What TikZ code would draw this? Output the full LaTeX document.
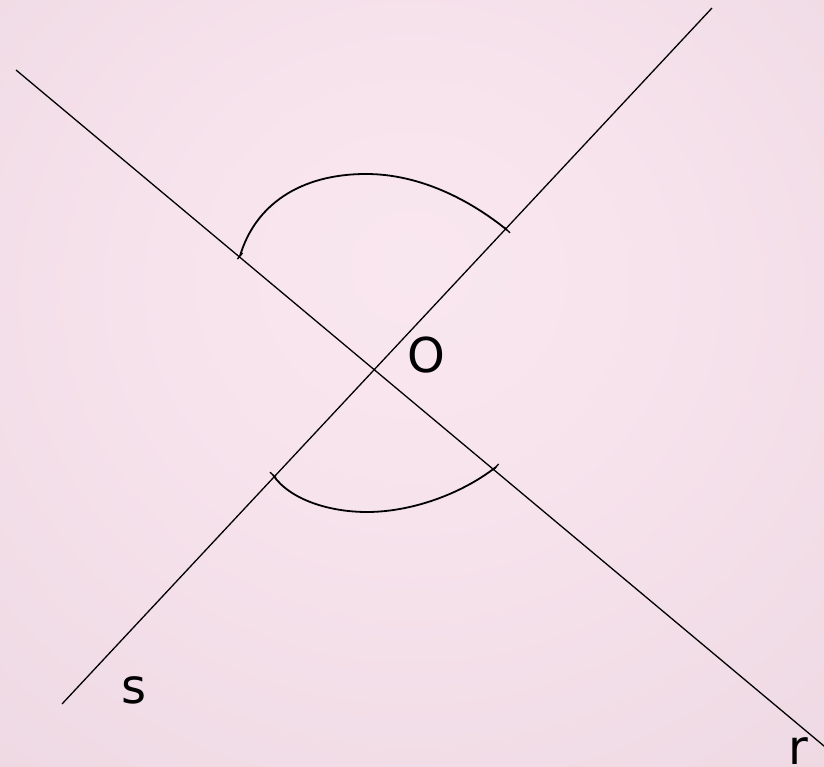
\documentclass[tikz,border=0pt]{standalone}
\usepackage{fontspec}
\setmainfont{DejaVu Sans}
\usetikzlibrary{calc}
\definecolor{bgA}{RGB}{249,231,239}
\definecolor{bgB}{RGB}{247,227,236}
\definecolor{bgC}{RGB}{234,213,224}
\definecolor{bgD}{RGB}{228,207,218}
\definecolor{bgE}{RGB}{213,195,205}
\pgfdeclareradialshading{bgshade}{\pgfpoint{0bp}{8bp}}{color(0bp)=(bgA); color(15bp)=(bgB); color(50bp)=(bgC); color(64bp)=(bgD); color(80bp)=(bgE)}
\tikzset{
  geoline/.style={line width=1.3pt, black},
  anglearc/.style={line width=1.8pt, black},
  tickmark/.style={line width=1.3pt, black},
  lbl/.style={inner sep=0pt, anchor=base, font=\fontsize{48}{58}\selectfont}
}
\begin{document}
\begin{tikzpicture}[x=1pt, y=-1pt]
  \shade[shading=bgshade] (0,0) rectangle (824,767);
  \useasboundingbox (0,0) rectangle (824,767);
  % line endpoints
  \coordinate (r1) at (16,70);
  \coordinate (r2) at (830,751);
  \coordinate (s1) at (62,704);
  \coordinate (s2) at (712,8);
  \coordinate (O) at (375,369.5);
  % lines
  \draw[geoline] (r1) -- (r2);
  \draw[geoline] (s1) -- (s2);
  % arc endpoints
  \coordinate (a1) at (240,256);
  \coordinate (b1) at (507,230);
  \coordinate (a2) at (273,475);
  \coordinate (b2) at (496,467);
  \coordinate (t1) at (366,174);
  \coordinate (t2) at (367,512);
  % arcs
  \draw[anglearc] (a1) .. controls (255,205) and (300,174) .. (t1)
                       .. controls (420,174) and (470,200) .. (b1);
  \draw[anglearc] (a2) .. controls (290,500) and (330,512) .. (t2)
                       .. controls (410,512) and (460,495) .. (b2);
  % ticks
  \draw[tickmark] ($(a1)+(-2.6,3.1)$) -- ($(a1)+(2.6,-3.1)$);
  \draw[tickmark] ($(b2)+(-2.6,3.1)$) -- ($(b2)+(2.6,-3.1)$);
  \draw[tickmark] ($(b1)+(-3,-2.8)$) -- ($(b1)+(3,2.8)$);
  \draw[tickmark] ($(a2)+(-3,-2.8)$) -- ($(a2)+(3,2.8)$);
  % labels
  \node[lbl] (lO) at (426,372) {O};
  \node[lbl] (ls) at (134,703) {s};
  \node[lbl] (lr) at (798,764) {r};
\end{tikzpicture}
\end{document}
